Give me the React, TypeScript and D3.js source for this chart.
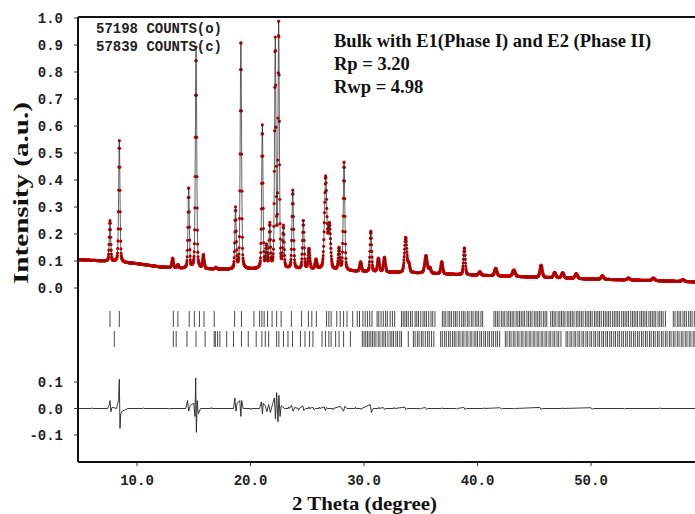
import React from "react";
import * as d3 from "d3";

// peak list: position (2theta), height above background, half width
const peakPos = [7.62, 8.44, 13.14, 13.6, 14.55, 15.2, 15.85, 16.95, 18.68, 19.15, 21.04, 21.4, 21.7, 22.18, 22.48, 22.9, 23.72, 24.65, 25.15, 25.77, 26.62, 26.95, 27.8, 28.24, 29.7, 30.6, 31.27, 31.8, 33.67, 33.95, 35.46, 35.8, 36.85, 38.84, 40.2, 41.6, 43.2, 45.6, 46.8, 47.5, 48.7, 51.0, 53.3, 55.5, 58.1];
const peakHeight = [0.15, 0.45, 0.035, 0.012, 0.3, 0.82, 0.05, 0.006, 0.225, 0.85, 0.53, 0.08, 0.16, 0.84, 0.9, 0.15, 0.29, 0.18, 0.075, 0.035, 0.34, 0.16, 0.08, 0.4, 0.035, 0.15, 0.05, 0.055, 0.13, 0.03, 0.065, 0.02, 0.045, 0.1, 0.013, 0.028, 0.024, 0.045, 0.02, 0.02, 0.018, 0.013, 0.007, 0.009, 0.007];
const peakWidth = [0.07, 0.07, 0.08, 0.08, 0.07, 0.07, 0.08, 0.1, 0.07, 0.07, 0.07, 0.07, 0.07, 0.07, 0.07, 0.07, 0.08, 0.08, 0.09, 0.09, 0.12, 0.12, 0.08, 0.08, 0.09, 0.08, 0.1, 0.1, 0.12, 0.1, 0.13, 0.1, 0.1, 0.09, 0.12, 0.12, 0.14, 0.12, 0.12, 0.12, 0.13, 0.13, 0.14, 0.14, 0.14];

// background knots
const bgX = [4.8, 7, 10, 12, 14, 18, 22, 26, 30, 35, 40, 45, 50, 55, 59.6];
const bgY = [0.105, 0.1, 0.09, 0.078, 0.072, 0.068, 0.07, 0.068, 0.06, 0.055, 0.047, 0.04, 0.033, 0.028, 0.022];

// difference curve (obs - calc)
const diffX = [4.8, 6.0, 6.05, 6.1, 7.4, 7.55, 7.62, 7.7, 7.8, 8.2, 8.3, 8.38, 8.44, 8.5, 8.56, 8.7, 9.2, 10.5, 10.55, 10.6, 12.8, 12.85, 12.9, 14.3, 14.45, 14.55, 14.7, 15.0, 15.1, 15.17, 15.23, 15.3, 15.4, 15.6, 16.5, 16.55, 16.6, 18.5, 18.62, 18.72, 18.82, 19.05, 19.15, 19.22, 19.35, 20.0, 20.05, 20.1, 20.8, 20.95, 21.05, 21.12, 21.3, 21.45, 21.6, 21.75, 21.9, 22.1, 22.2, 22.3, 22.42, 22.5, 22.6, 22.7, 23.0, 23.3, 23.35, 23.4, 23.6, 23.75, 23.9, 24.2, 24.25, 24.3, 24.6, 24.7, 24.85, 25.1, 25.15, 25.2, 25.5, 25.6, 25.7, 26.0, 26.05, 26.1, 26.5, 26.6, 26.7, 26.8, 27.2, 27.25, 27.3, 27.9, 28.2, 28.3, 28.5, 29.2, 29.25, 29.3, 29.7, 29.75, 29.8, 30.55, 30.65, 30.8, 31.25, 31.3, 31.35, 31.7, 31.8, 31.9, 32.6, 32.65, 32.7, 33.6, 33.7, 33.8, 34.9, 34.95, 35.0, 35.4, 35.5, 35.6, 36.8, 36.85, 36.9, 38.1, 38.15, 38.2, 38.8, 38.9, 39.0, 40.5, 40.55, 40.6, 42.0, 42.1, 42.2, 43.2, 43.25, 43.3, 45.5, 45.6, 45.7, 47.4, 47.45, 47.5, 50.0, 50.1, 50.2, 52.9, 52.95, 53.0, 56.0, 56.05, 56.1, 59.6];
const diffY = [0, 0, 0.003, 0, 0, 0.012, 0.03, -0.012, 0.005, 0, 0.02, 0.035, 0.11, -0.075, -0.02, -0.01, 0, 0, 0.003, 0, 0, -0.003, 0, 0, 0.03, -0.01, 0.012, 0.02, -0.03, 0.115, -0.09, 0.03, -0.02, 0, 0, 0.004, 0, 0, 0.04, -0.01, 0.02, 0.03, -0.03, 0.03, 0, 0, -0.004, 0, 0, 0.025, -0.02, 0.02, 0.01, -0.012, 0.015, -0.015, 0.01, 0.04, -0.04, 0.06, -0.05, 0.05, -0.03, 0.01, 0, 0, 0.006, 0, 0.012, -0.01, 0.004, 0, -0.006, 0, 0.01, -0.008, 0, 0, 0.006, 0, 0.005, -0.005, 0, 0, 0.005, 0, 0.006, -0.008, 0.004, 0, 0, -0.005, 0, 0.008, -0.01, 0.008, 0, 0, 0.005, 0, 0, -0.004, 0, 0.015, -0.015, 0, 0, 0.005, 0, 0.004, -0.004, 0, 0, 0.004, 0, 0.005, -0.005, 0, 0, -0.003, 0, 0.004, -0.004, 0, 0, 0.003, 0, 0, -0.003, 0, 0.004, -0.004, 0, 0, 0.003, 0, 0.003, -0.003, 0, 0, -0.003, 0, 0.004, -0.004, 0, 0, 0.003, 0, 0.003, -0.003, 0, 0, -0.003, 0, 0, 0.003, 0, 0];

// reflection positions, phase I (top row) and phase II (bottom row)
const phase1 = [7.62, 8.44, 13.2, 13.6, 14.6, 15.05, 15.5, 15.9, 16.8, 18.6, 19.2, 20.3, 20.8, 21.0, 21.2, 21.5, 21.9, 22.3, 22.7, 23.6, 24.5, 25.1, 25.4, 25.8, 26.7, 26.9, 27.1, 27.6, 27.9, 28.2, 28.5, 29.0, 29.4, 29.6, 29.9, 30.1, 30.3, 30.5, 30.7, 31.15, 31.3, 31.5, 31.7, 31.9, 32.05, 32.3, 32.5, 32.7, 33.3, 33.45, 33.6, 33.75, 33.9, 34.1, 34.25, 34.5, 34.65, 34.8, 35.0, 35.2, 35.35, 35.5, 35.7, 35.9, 36.05, 36.25, 36.9, 37.05, 37.2, 37.4, 37.55, 37.7, 37.9, 38.05, 38.2, 38.4, 38.6, 38.75, 38.9, 39.1, 39.25, 39.45, 39.6, 39.8, 39.95, 40.1, 40.3, 40.45, 41.45, 41.6, 41.75, 41.9, 42.1, 42.25, 42.4, 42.6, 42.75, 42.9, 43.05, 43.2, 43.4, 43.55, 43.7, 43.85, 44.0, 44.15, 44.35, 44.5, 44.65, 44.8, 45.0, 45.15, 45.3, 45.45, 45.6, 45.8, 45.95, 46.1, 46.45, 46.6, 46.75, 46.9, 47.1, 47.25, 47.4, 47.55, 47.7, 47.9, 48.05, 48.2, 48.35, 48.5, 48.7, 48.85, 49.0, 49.15, 49.3, 49.5, 49.65, 49.8, 49.95, 50.1, 50.3, 50.45, 50.6, 50.75, 50.9, 51.1, 51.25, 51.4, 51.55, 51.7, 51.9, 52.05, 52.2, 52.35, 52.5, 52.7, 52.85, 53.0, 53.15, 53.3, 53.5, 53.65, 53.8, 53.95, 54.1, 54.3, 54.45, 54.6, 54.75, 54.9, 55.1, 55.25, 55.4, 55.55, 55.7, 55.9, 56.05, 56.2, 56.35, 56.55, 57.25, 57.4, 57.6, 57.75, 57.9, 58.1, 58.25, 58.4, 58.6, 58.75, 58.9, 59.1, 59.3];
const phase2 = [8.0, 13.2, 13.45, 14.4, 15.2, 16.0, 16.8, 16.9, 17.1, 17.3, 17.9, 18.5, 19.2, 19.8, 20.5, 21.0, 21.3, 21.6, 22.3, 22.5, 22.9, 23.3, 23.7, 24.4, 24.8, 25.2, 25.5, 26.3, 26.6, 26.9, 27.1, 27.5, 27.8, 28.2, 28.8, 29.85, 30.0, 30.15, 30.3, 30.45, 30.6, 30.75, 30.9, 31.05, 31.25, 31.4, 31.6, 31.75, 31.9, 32.1, 32.3, 32.45, 32.6, 32.8, 32.95, 33.15, 33.3, 33.9, 34.35, 34.5, 34.7, 34.85, 35.05, 35.2, 35.4, 35.6, 35.75, 35.95, 36.15, 36.75, 36.9, 37.1, 37.25, 37.45, 37.6, 37.8, 37.95, 38.1, 38.3, 38.45, 38.65, 38.8, 39.0, 39.15, 39.35, 39.5, 39.7, 39.85, 40.0, 40.2, 40.35, 40.55, 40.7, 40.9, 41.05, 41.25, 41.4, 41.6, 41.75, 41.95, 42.45, 42.6, 42.8, 42.95, 43.15, 43.3, 43.5, 43.65, 43.85, 44.0, 44.2, 44.35, 44.55, 44.7, 44.9, 45.05, 45.25, 45.4, 45.6, 45.75, 45.95, 46.1, 46.3, 46.45, 46.65, 46.8, 47.0, 47.15, 47.35, 47.8, 47.95, 48.15, 48.3, 48.5, 48.65, 48.85, 49.0, 49.2, 49.35, 49.55, 49.7, 49.9, 50.05, 50.25, 50.4, 50.6, 50.75, 50.95, 51.1, 51.3, 51.45, 51.65, 51.8, 52.0, 52.15, 52.35, 52.5, 52.7, 52.85, 53.05, 53.2, 53.4, 53.55, 53.75, 53.9, 54.1, 54.25, 54.45, 54.6, 54.8, 54.95, 55.15, 55.3, 55.5, 55.65, 55.85, 56.0, 56.2, 56.35, 56.55, 56.7, 56.9, 57.05, 57.25, 57.4, 57.6, 57.75, 57.95, 58.1, 58.3, 58.45, 58.65, 58.8, 59.0, 59.15, 59.35];

const xTickVals = [10, 20, 30, 40, 50];
const yTickVals = [0, 0.1, 0.2, 0.3, 0.4, 0.5, 0.6, 0.7, 0.8, 0.9, 1.0];
const diffTickVals = [-0.1, 0, 0.1];

const W = 695, H = 514;
const left = 78, top = 17, bottom = 462;

const App = () => {
  const x = d3.scaleLinear().domain([4.8, 59.6]).range([left, 700]);
  const y = d3.scaleLinear().domain([0, 1]).range([288, 18]);
  const yd = d3.scaleLinear().domain([-0.1, 0.1]).range([435, 382]);
  const bg = d3.scaleLinear().domain(bgX).range(bgY);

  const profile = (t: number) => {
    let v = bg(t);
    peakPos.forEach((p, i) => {
      const d = (t - p) / peakWidth[i];
      v += peakHeight[i] * (0.65 * Math.exp(-Math.LN2 * d * d) + 0.35 / (1 + d * d));
    });
    return v;
  };

  const grid = d3.range(4.8, 59.6, 0.02);
  const pts = grid.map(t => [t, profile(t)] as [number, number]);

  const line = d3.line<[number, number]>().x(d => x(d[0])).y(d => y(d[1]));
  const diffLine = d3.line<number>().x(d => x(diffX[d])).y(d => yd(diffY[d]));

  const mono = "'Liberation Mono', 'Courier New', monospace";
  const serif = "'Liberation Serif', 'Times New Roman', serif";

  return (
    <svg width={W} height={H} style={{ position: "absolute", left: 0, top: 0, background: "#fff" }}>
      <defs>
        <clipPath id="plot"><rect x={left} y={top} width={W - left} height={bottom - top} /></clipPath>
      </defs>

      <g clipPath="url(#plot)">
        {pts.map((d, i) => (
          <circle key={i} cx={x(d[0])} cy={y(d[1])} r={1.6} fill="#d40000" />
        ))}
        <path d={line(pts) || ""} fill="none" stroke="#222" strokeWidth={0.7} />

        {phase1.map((p, i) => (
          <line key={"a" + i} x1={x(p)} x2={x(p)} y1={311} y2={327} stroke="#4a4a4a" strokeWidth={1} />
        ))}
        {phase2.map((p, i) => (
          <line key={"b" + i} x1={x(p)} x2={x(p)} y1={331} y2={347} stroke="#4a4a4a" strokeWidth={1} />
        ))}

        <path d={diffLine(d3.range(diffX.length)) || ""} fill="none" stroke="#222" strokeWidth={0.9} />
      </g>

      {/* frame */}
      <line x1={left} x2={left} y1={top} y2={bottom} stroke="#111" strokeWidth={2} />
      <line x1={left} x2={W} y1={top} y2={top} stroke="#111" strokeWidth={2} />
      <line x1={left} x2={W} y1={bottom} y2={bottom} stroke="#111" strokeWidth={2} />

      {yTickVals.map(v => (
        <g key={"y" + v}>
          <line x1={left - 4} x2={left} y1={y(v)} y2={y(v)} stroke="#333" />
          <text x={63} y={y(v) + 5} textAnchor="end" fontFamily={mono} fontWeight="bold" fontSize={14} fill="#222">
            {v.toFixed(1)}
          </text>
        </g>
      ))}
      {diffTickVals.map(v => (
        <g key={"d" + v}>
          <line x1={left - 4} x2={left} y1={yd(v)} y2={yd(v)} stroke="#333" />
          <text x={63} y={yd(v) + 5} textAnchor="end" fontFamily={mono} fontWeight="bold" fontSize={14} fill="#222">
            {v === 0 ? "0.0" : v < 0 ? "-0.1" : "0.1"}
          </text>
        </g>
      ))}
      {xTickVals.map(v => (
        <g key={"x" + v}>
          <line x1={x(v)} x2={x(v)} y1={bottom} y2={bottom + 4} stroke="#333" />
          <text x={x(v)} y={485} textAnchor="middle" fontFamily={mono} fontWeight="bold" fontSize={14} fill="#222">
            {v.toFixed(1)}
          </text>
        </g>
      ))}

      <text x={96} y={33} fontFamily={mono} fontWeight="bold" fontSize={14} fill="#222">57198 COUNTS(o)</text>
      <text x={96} y={51} fontFamily={mono} fontWeight="bold" fontSize={14} fill="#222">57839 COUNTS(c)</text>

      <text x={334} y={47} fontFamily={serif} fontWeight="bold" fontSize={18.5} fill="#111">Bulk with E1(Phase I) and E2 (Phase II)</text>
      <text x={334} y={70} fontFamily={serif} fontWeight="bold" fontSize={18.5} fill="#111">Rp = 3.20</text>
      <text x={334} y={93} fontFamily={serif} fontWeight="bold" fontSize={18.5} fill="#111">Rwp = 4.98</text>

      <text transform="translate(28,193) rotate(-90)" textAnchor="middle" fontFamily={serif} fontWeight="bold" fontSize={21}
        textLength={182} lengthAdjust="spacingAndGlyphs" fill="#111">
        Intensity (a.u.)
      </text>
      <text x={364.5} y={509.5} textAnchor="middle" fontFamily={serif} fontWeight="bold" fontSize={19.5}
        textLength={145} lengthAdjust="spacingAndGlyphs" fill="#111">
        2 Theta (degree)
      </text>
    </svg>
  );
};

export default App;
